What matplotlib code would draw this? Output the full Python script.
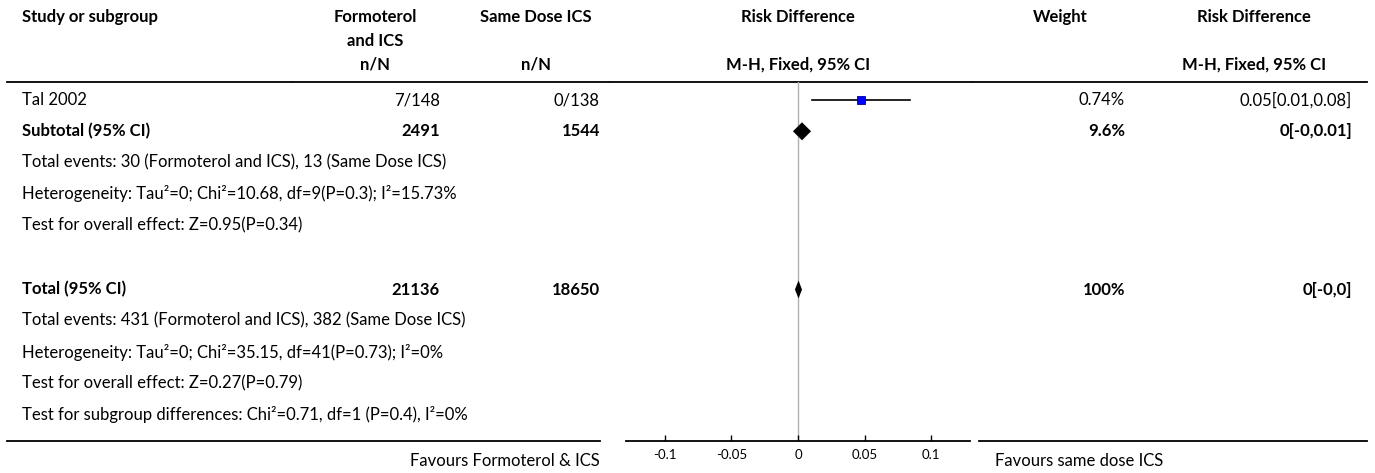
import matplotlib.pyplot as plt

# --- data ---
study = ['Tal 2002']
n_formo = ['7/148']
n_ics = ['0/138']
rd = [0.047]
rd_lo = [0.0105]
rd_hi = [0.084]
weight = ['0.74%']
rd_text = ['0.05[0.01,0.08]']

summary_labels = ['Subtotal (95% CI)', 'Total (95% CI)']
summary_formo = ['2491', '21136']
summary_ics = ['1544', '18650']
summary_rd = [0.003, 0.0004]
summary_lo = [-0.0038, -0.0023]
summary_hi = [0.0098, 0.003]
summary_weight = ['9.6%', '100%']
summary_text = ['0[-0,0.01]', '0[-0,0]']

subtotal_notes = [
    'Total events: 30 (Formoterol and ICS), 13 (Same Dose ICS)',
    'Heterogeneity: Tau\u00b2=0; Chi\u00b2=10.68, df=9(P=0.3); I\u00b2=15.73%',
    'Test for overall effect: Z=0.95(P=0.34)',
]
total_notes = [
    'Total events: 431 (Formoterol and ICS), 382 (Same Dose ICS)',
    'Heterogeneity: Tau\u00b2=0; Chi\u00b2=35.15, df=41(P=0.73); I\u00b2=0%',
    'Test for overall effect: Z=0.27(P=0.79)',
    'Test for subgroup differences: Chi\u00b2=0.71, df=1 (P=0.4), I\u00b2=0%',
]

ticks = [-0.1, -0.05, 0, 0.05, 0.1]
tick_labels = ['-0.1', '-0.05', '0', '0.05', '0.1']
x_limit = 0.129

# --- layout (pixels) ---
W, H = 1375, 473
plt.rcParams['font.family'] = ['Lato', 'DejaVu Sans']
FS = 12
row_h = 31.3
y_study = 100
y_sub = y_study + row_h
y_total = y_sub + 4 * row_h + 33
line_top, line_bot = 82, 441
ax_left, ax_right = 626, 970

fig = plt.figure(figsize=(W / 100, H / 100), dpi=100)

# full-figure axes for the table text, pixel coordinates
tab = fig.add_axes([0, 0, 1, 1])
tab.set_xlim(0, W)
tab.set_ylim(H, 0)
tab.axis('off')

# forest plot axes, y in the same pixel rows
ax = fig.add_axes([ax_left / W, (H - line_bot) / H,
                   (ax_right - ax_left) / W, (line_bot - line_top) / H])
ax.set_xlim(-x_limit, x_limit)
ax.set_ylim(line_bot, line_top)
ax.patch.set_visible(False)
for s in ['top', 'right', 'left']:
    ax.spines[s].set_visible(False)
ax.spines['bottom'].set_linewidth(1.3)
ax.set_yticks([])
ax.set_xticks(ticks)
ax.set_xticklabels(tick_labels)
ax.tick_params(axis='x', direction='in', length=4, width=1, labelsize=9.5, pad=6)
ax.axvline(0, color='#b0b0b0', lw=1, zorder=0)

# header
bold = dict(fontsize=FS, fontweight='bold')
tab.text(22, 17, 'Study or subgroup', ha='left', va='center', **bold)
tab.text(375, 17, 'Formoterol', ha='center', va='center', **bold)
tab.text(375, 41, 'and ICS', ha='center', va='center', **bold)
tab.text(536, 17, 'Same Dose ICS', ha='center', va='center', **bold)
tab.text(798, 17, 'Risk Difference', ha='center', va='center', **bold)
tab.text(1060, 17, 'Weight', ha='center', va='center', **bold)
tab.text(1254, 17, 'Risk Difference', ha='center', va='center', **bold)
tab.text(375, 65, 'n/N', ha='center', va='center', **bold)
tab.text(536, 65, 'n/N', ha='center', va='center', **bold)
tab.text(798, 65, 'M-H, Fixed, 95% CI', ha='center', va='center', **bold)
tab.text(1254, 65, 'M-H, Fixed, 95% CI', ha='center', va='center', **bold)

# rules
for x0, x1 in [(7, 292), (293, 609), (610, 972), (973, 1367)]:
    tab.plot([x0, x1], [line_top, line_top], color='black', lw=1.3)
for x0, x1 in [(7, 600), (979, 1367)]:
    tab.plot([x0, x1], [line_bot, line_bot], color='black', lw=1.3)

# study rows
for i, name in enumerate(study):
    y = y_study + i * row_h
    tab.text(22, y, name, ha='left', va='center', fontsize=FS)
    tab.text(440, y, n_formo[i], ha='right', va='center', fontsize=FS)
    tab.text(600, y, n_ics[i], ha='right', va='center', fontsize=FS)
    tab.text(1125, y, weight[i], ha='right', va='center', fontsize=FS)
    tab.text(1352, y, rd_text[i], ha='right', va='center', fontsize=FS)
    ax.plot([rd_lo[i], rd_hi[i]], [y, y], color='black', lw=1.2)
    ax.plot(rd[i], y, marker='s', ms=5.5, color='#0000ff', mec='#00008b', mew=0.6)

# summary rows + notes
summary_y = [y_sub, y_total]
summary_notes = [subtotal_notes, total_notes]
for i, label in enumerate(summary_labels):
    y = summary_y[i]
    tab.text(22, y, label, ha='left', va='center', **bold)
    tab.text(440, y, summary_formo[i], ha='right', va='center', **bold)
    tab.text(600, y, summary_ics[i], ha='right', va='center', **bold)
    tab.text(1125, y, summary_weight[i], ha='right', va='center', **bold)
    tab.text(1352, y, summary_text[i], ha='right', va='center', **bold)
    ax.fill([summary_lo[i], summary_rd[i], summary_hi[i], summary_rd[i]],
            [y, y - 9, y, y + 9], color='black', lw=0)
    for j, note in enumerate(summary_notes[i]):
        tab.text(22, y + (j + 1) * row_h, note, ha='left', va='center', fontsize=FS)

# favours labels
tab.text(600, 461, 'Favours Formoterol & ICS', ha='right', va='center', fontsize=FS)
tab.text(995, 461, 'Favours same dose ICS', ha='left', va='center', fontsize=FS)

fig.savefig('out.png', dpi=100)
